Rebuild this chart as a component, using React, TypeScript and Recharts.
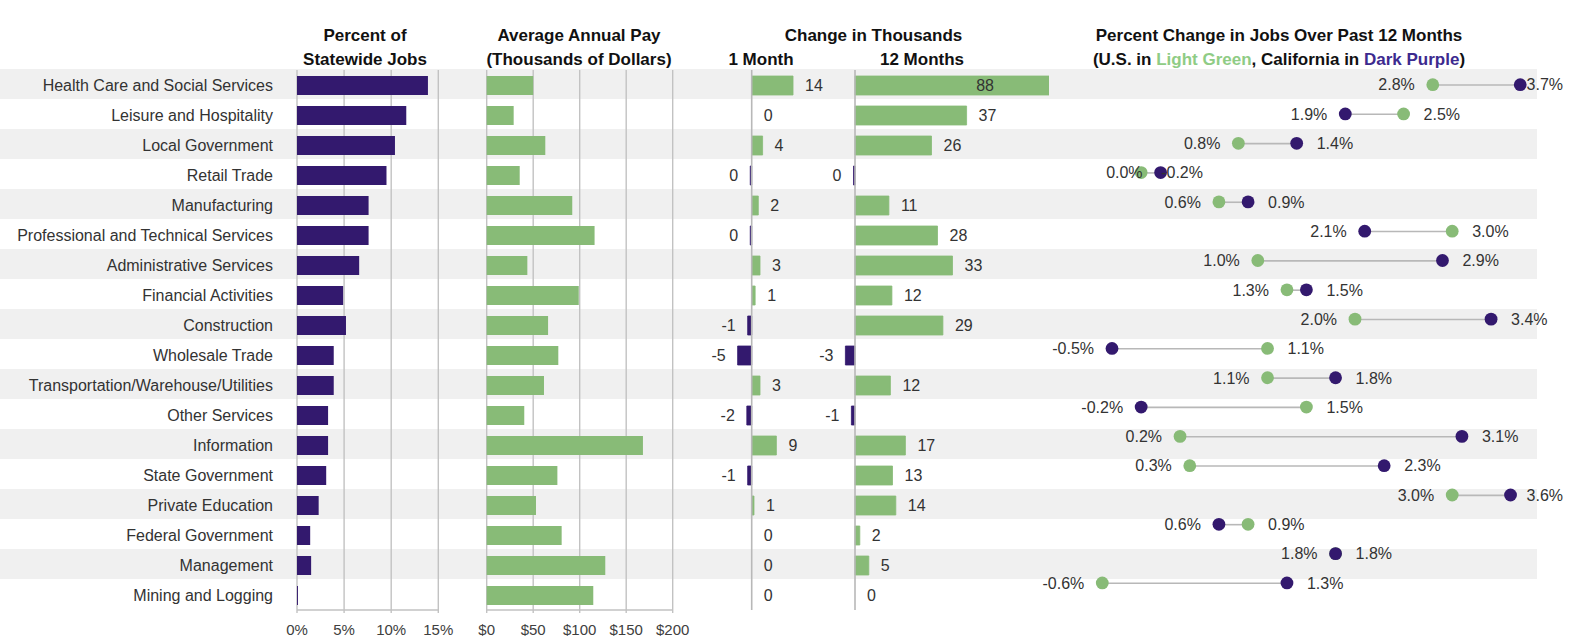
import React from 'react';
import {
  BarChart,
  Bar,
  XAxis,
  YAxis,
  CartesianGrid,
  Cell,
  LabelList,
  ReferenceLine,
  ComposedChart,
  Line,
} from 'recharts';

const FONT = "'Liberation Sans', Arial, Helvetica, sans-serif";
const W = 1595;
const H = 644;
const PURPLE = '#33196e';
const GREEN = '#88bb77';
const BAND = '#f0f0f0';
const GRID = '#c2c2c2';
const TEXT = '#333333';

const categories = [
  'Health Care and Social Services',
  'Leisure and Hospitality',
  'Local Government',
  'Retail Trade',
  'Manufacturing',
  'Professional and Technical Services',
  'Administrative Services',
  'Financial Activities',
  'Construction',
  'Wholesale Trade',
  'Transportation/Warehouse/Utilities',
  'Other Services',
  'Information',
  'State Government',
  'Private Education',
  'Federal Government',
  'Management',
  'Mining and Logging',
];

const statewideShare = [13.9, 11.6, 10.4, 9.5, 7.6, 7.6, 6.6, 4.9, 5.2, 3.9, 3.9, 3.3, 3.3, 3.1, 2.3, 1.4, 1.5, 0.1];
const avgPay = [50, 29, 63, 35.5, 92, 116, 43.7, 99, 66, 77, 61.6, 40.4, 168, 76, 53, 80.6, 127.5, 114.6];
const change1Month = [14.4, 0, 3.8, -0.5, 2.3, -0.5, 2.9, 1.2, -1.4, -4.9, 2.9, -1.7, 8.6, -1.4, 0.8, 0, 0, 0];
const change12Months = [88, 37.2, 25.5, -0.5, 11.3, 27.5, 32.5, 12.3, 29.3, -3.2, 11.8, -1.2, 16.8, 12.5, 13.6, 1.6, 4.6, 0];
const usChange = [2.8, 2.5, 0.8, -0.2, 0.6, 3.0, 1.0, 1.3, 2.0, 1.1, 1.1, 1.5, 0.2, 0.3, 3.0, 0.9, 1.8, -0.6];
const caChange = [3.7, 1.9, 1.4, 0.0, 0.9, 2.1, 2.9, 1.5, 3.4, -0.5, 1.8, -0.2, 3.1, 2.3, 3.6, 0.6, 1.8, 1.3];

const shareTicks = [0, 5, 10, 15];
const payTicks = [0, 50, 100, 150, 200];

const rows = categories.map((name, i) => ({
  name,
  share: statewideShare[i],
  pay: avgPay[i],
  m1: change1Month[i],
  m12: change12Months[i],
  us: usChange[i],
  ca: caChange[i],
  band: i % 2 === 0 ? 1 : 0,
}));

const M1_DOMAIN: [number, number] = [-10, 20];
const M12_DOMAIN: [number, number] = [-5, 64.7];

const Layer = ({ children }: { children: React.ReactNode }) => (
  <div style={{ position: 'absolute', left: 0, top: 0 }}>{children}</div>
);

// label carried by an invisible line whose points sit at the bar ends
function makeChangeLabel(key: 'm1' | 'm12', maxVisible: number) {
  return (props: any) => {
    const x = Number(props.x);
    const y = Number(props.y);
    const r = rows[props.index];
    if (!r || !isFinite(x) || !isFinite(y)) return null;
    const v = r[key];
    let tx = x + 12;
    let anchor: 'start' | 'end' | 'middle' = 'start';
    if (v > maxVisible) {
      tx = x - 64;
      anchor = 'middle';
    } else if (v < 0) {
      tx = x - 12;
      anchor = 'end';
    }
    return (
      <text x={tx} y={y} dy="0.36em" textAnchor={anchor} fontSize={16} fill={TEXT}>
        {String(Math.round(v))}
      </text>
    );
  };
}

function makeDumbLabel(series: 'us' | 'ca') {
  return (props: any) => {
    const x = Number(props.x);
    const y = Number(props.y);
    const r = rows[props.index];
    if (!r) return null;
    const usLeft = Math.abs(r.us) <= Math.abs(r.ca);
    const left = series === 'us' ? usLeft : !usLeft;
    const val = series === 'us' ? r.us : r.ca;
    let tx = left ? x - 18 : x + 20;
    let anchor: 'start' | 'end' = left ? 'end' : 'start';
    if (!left && tx + 37 > 1563) {
      tx = 1563;
      anchor = 'end';
    }
    return (
      <text x={tx} y={y} dy="0.36em" textAnchor={anchor} fontSize={16} fill={TEXT}>
        {val.toFixed(1) + '%'}
      </text>
    );
  };
}

const connector = (p: any) => {
  const x = Number(p.x);
  const w = Number(p.width || 0);
  const cy = Number(p.y) + Number(p.height) / 2;
  return <line x1={x} x2={x + w} y1={cy} y2={cy} stroke="#b8b8b8" strokeWidth={1.6} />;
};

export default function App() {
  return (
    <div
      style={{
        position: 'absolute',
        left: 0,
        top: 0,
        width: W,
        height: H,
        background: '#ffffff',
        fontFamily: FONT,
        overflow: 'hidden',
      }}
    >
      {/* alternating row bands */}
      <Layer>
        <BarChart
          width={W}
          height={H}
          data={rows}
          layout="vertical"
          barCategoryGap={0}
          margin={{ top: 69, right: W - 1537, bottom: H - 609, left: 0 }}
        >
          <XAxis type="number" domain={[0, 1]} hide />
          <YAxis type="category" dataKey="name" hide width={0} />
          <Bar dataKey="band" fill={BAND} isAnimationActive={false} />
        </BarChart>
      </Layer>

      {/* Percent of statewide jobs */}
      <Layer>
        <BarChart
          width={W}
          height={H}
          data={rows}
          layout="vertical"
          margin={{ top: 70, right: W - 438.3, bottom: 4, left: 0 }}
        >
          <CartesianGrid horizontal={false} stroke={GRID} strokeWidth={1.4} />
          <XAxis
            type="number"
            domain={[0, 15]}
            ticks={shareTicks}
            tickFormatter={(v: number) => `${v}%`}
            height={30}
            tickSize={3}
            tickMargin={11}
            axisLine={{ stroke: GRID, strokeWidth: 1.4 }}
            tickLine={{ stroke: GRID, strokeWidth: 1.4 }}
            tick={{ fontSize: 15, fill: '#404040' }}
            interval={0}
          />
          <YAxis
            type="category"
            dataKey="name"
            width={297}
            tickSize={0}
            tickMargin={24}
            axisLine={false}
            tickLine={false}
            interval={0}
            tick={{ fontSize: 16, fill: TEXT }}
          />
          <Bar dataKey="share" fill={PURPLE} barSize={19} isAnimationActive={false} />
        </BarChart>
      </Layer>

      {/* Average annual pay */}
      <Layer>
        <BarChart
          width={W}
          height={H}
          data={rows}
          layout="vertical"
          margin={{ top: 70, right: W - 672.7, bottom: 4, left: 486.7 }}
        >
          <CartesianGrid horizontal={false} stroke={GRID} strokeWidth={1.4} />
          <XAxis
            type="number"
            domain={[0, 200]}
            ticks={payTicks}
            tickFormatter={(v: number) => `$${v}`}
            height={30}
            tickSize={3}
            tickMargin={11}
            axisLine={{ stroke: GRID, strokeWidth: 1.4 }}
            tickLine={{ stroke: GRID, strokeWidth: 1.4 }}
            tick={{ fontSize: 15, fill: '#404040' }}
            interval={0}
          />
          <YAxis type="category" dataKey="name" hide width={0} />
          <Bar dataKey="pay" fill={GREEN} barSize={19} isAnimationActive={false} />
        </BarChart>
      </Layer>

      {/* Change, 1 month */}
      <Layer>
        <ComposedChart
          width={W}
          height={H}
          data={rows}
          layout="vertical"
          margin={{ top: 70, right: W - 809.1, bottom: H - 610, left: 723 }}
        >
          <XAxis type="number" domain={M1_DOMAIN} hide />
          <YAxis type="category" dataKey="name" hide width={0} />
          <ReferenceLine x={0} stroke="#b8b8b8" strokeWidth={1.6} />
          <Bar dataKey="m1" barSize={19} isAnimationActive={false}>
            {rows.map((r, i) => (
              <Cell
                key={i}
                fill={r.m1 < 0 ? PURPLE : GREEN}
                stroke={r.m1 < 0 ? PURPLE : GREEN}
                strokeWidth={0.8}
              />
            ))}
          </Bar>
          <Line
            dataKey="m1"
            stroke="none"
            dot={false}
            activeDot={false}
            isAnimationActive={false}
          >
            <LabelList dataKey="m1" content={makeChangeLabel('m1', M1_DOMAIN[1])} />
          </Line>
        </ComposedChart>
      </Layer>

      {/* Change, 12 months */}
      <Layer>
        <ComposedChart
          width={W}
          height={H}
          data={rows}
          layout="vertical"
          margin={{ top: 70, right: W - 1049.1, bottom: H - 610, left: 840 }}
        >
          <XAxis type="number" domain={M12_DOMAIN} allowDataOverflow hide />
          <YAxis type="category" dataKey="name" hide width={0} />
          <ReferenceLine x={0} stroke="#b8b8b8" strokeWidth={1.6} />
          <Bar dataKey="m12" barSize={19} isAnimationActive={false}>
            {rows.map((r, i) => (
              <Cell
                key={i}
                fill={r.m12 < 0 ? PURPLE : GREEN}
                stroke={r.m12 < 0 ? PURPLE : GREEN}
                strokeWidth={0.8}
              />
            ))}
          </Bar>
          <Line
            dataKey={(d: any) => Math.min(d.m12, M12_DOMAIN[1])}
            stroke="none"
            dot={false}
            activeDot={false}
            isAnimationActive={false}
          >
            <LabelList content={makeChangeLabel('m12', M12_DOMAIN[1])} />
          </Line>
        </ComposedChart>
      </Layer>

      {/* Percent change dumbbell */}
      <Layer>
        <ComposedChart
          width={W}
          height={H}
          data={rows}
          layout="vertical"
          margin={{ top: 70, right: W - 1549.4, bottom: H - 597.6, left: 1063.4 }}
        >
          <XAxis type="number" domain={[-1, 4]} hide />
          <YAxis type="category" dataKey="name" hide width={0} />
          <Bar
            dataKey={(d: any) => [Math.min(d.us, d.ca), Math.max(d.us, d.ca)]}
            barSize={10}
            shape={connector}
            isAnimationActive={false}
          />
          <Line
            dataKey="us"
            stroke="none"
            dot={{ r: 6.4, fill: GREEN, stroke: 'none' }}
            activeDot={false}
            isAnimationActive={false}
          >
            <LabelList dataKey="us" content={makeDumbLabel('us')} />
          </Line>
          <Line
            dataKey="ca"
            stroke="none"
            dot={{ r: 6.4, fill: PURPLE, stroke: 'none' }}
            activeDot={false}
            isAnimationActive={false}
          >
            <LabelList dataKey="ca" content={makeDumbLabel('ca')} />
          </Line>
        </ComposedChart>
      </Layer>

      {/* Headers */}
      <svg
        width={W}
        height={H}
        style={{ position: 'absolute', left: 0, top: 0, pointerEvents: 'none' }}
      >
        <g fontSize={17} fontWeight="bold" fill="#111111" textAnchor="middle">
          <text x={365} y={41}>Percent of</text>
          <text x={365} y={65}>Statewide Jobs</text>
          <text x={579} y={41}>Average Annual Pay</text>
          <text x={579} y={65}>(Thousands of Dollars)</text>
          <text x={873.5} y={41}>Change in Thousands</text>
          <text x={761} y={65}>1 Month</text>
          <text x={922} y={65}>12 Months</text>
          <text x={1279} y={41}>Percent Change in Jobs Over Past 12 Months</text>
          <text x={1279} y={65}>
            (U.S. in <tspan fill="#8fcc85">Light Green</tspan>, California in{' '}
            <tspan fill="#3d2a8f">Dark Purple</tspan>)
          </text>
        </g>
      </svg>
    </div>
  );
}
